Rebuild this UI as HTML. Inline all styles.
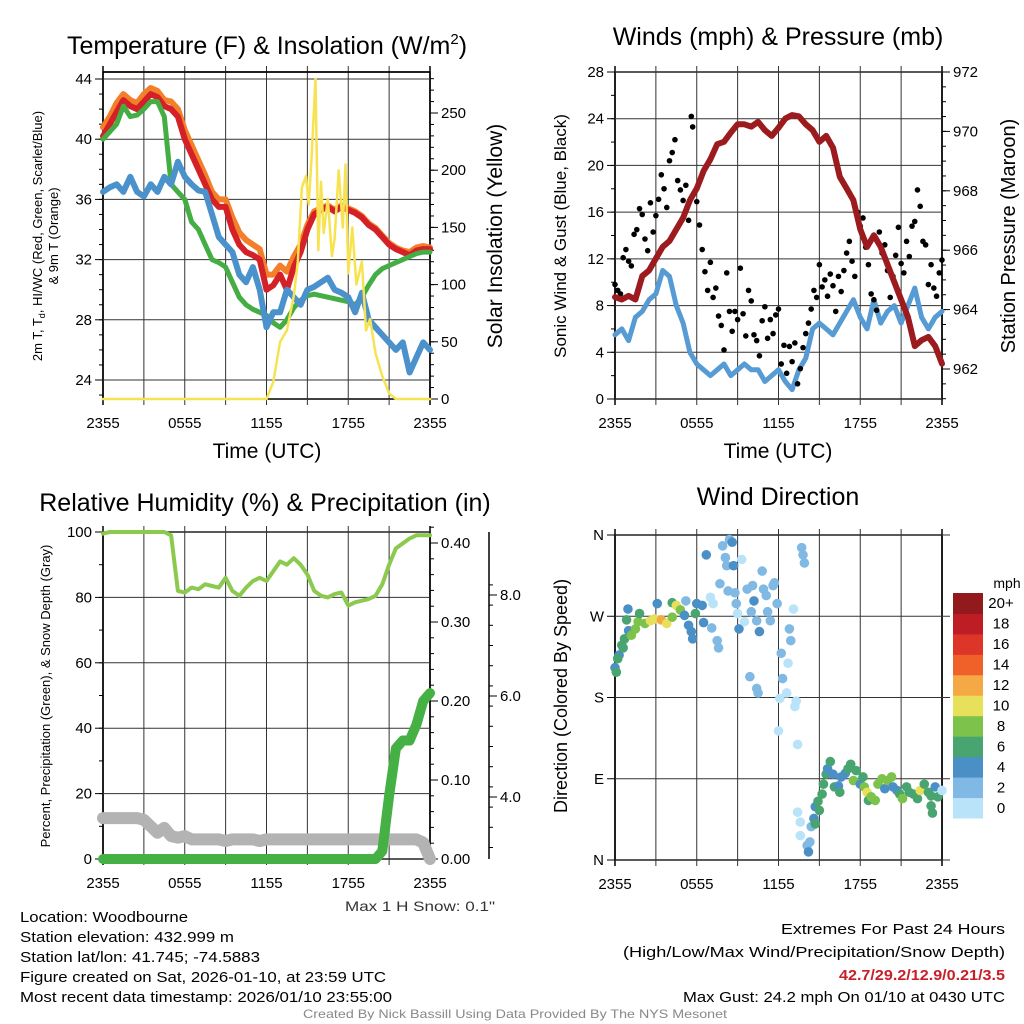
<!DOCTYPE html>
<html><head><meta charset="utf-8">
<style>
html,body{margin:0;padding:0;background:#fff;}
svg{display:block;font-family:"Liberation Sans",Arial,sans-serif;}
</style></head>
<body>
<svg id="chart" width="1024" height="1024" viewBox="0 0 1024 1024" xmlns="http://www.w3.org/2000/svg">
<rect x="0" y="0" width="1024" height="1024" fill="#fff"/>
<g id="texts" font-size="15" fill="#000">
<text x="267" y="54" font-size="25" text-anchor="middle">Temperature (F) &amp; Insolation (W/m<tspan font-size="15" dy="-10">2</tspan><tspan dy="10">)</tspan></text>
<text x="778" y="45" font-size="25" text-anchor="middle">Winds (mph) &amp; Pressure (mb)</text>
<text x="265" y="511" font-size="25" text-anchor="middle">Relative Humidity (%) &amp; Precipitation (in)</text>
<text x="778" y="505" font-size="25" text-anchor="middle">Wind Direction</text>
<text x="267" y="458" font-size="21" text-anchor="middle">Time (UTC)</text>
<text x="778" y="458" font-size="21" text-anchor="middle">Time (UTC)</text>
<text transform="translate(42,236) rotate(-90)" font-size="13" text-anchor="middle">2m T, T<tspan font-size="9" dy="3">d</tspan><tspan dy="-3">, HI/WC (Red, Green, Scarlet/Blue)</tspan></text>
<text transform="translate(58,236) rotate(-90)" font-size="13" text-anchor="middle">&amp; 9m T (Orange)</text>
<text transform="translate(502,236) rotate(-90)" font-size="21" text-anchor="middle">Solar Insolation (Yellow)</text>
<text transform="translate(566,236) rotate(-90)" font-size="17" text-anchor="middle">Sonic Wind &amp; Gust (Blue, Black)</text>
<text transform="translate(1015,236) rotate(-90)" font-size="20" text-anchor="middle">Station Pressure (Maroon)</text>
<text transform="translate(50,696) rotate(-90)" font-size="13" text-anchor="middle">Percent, Precipitation (Green), &amp; Snow Depth (Gray)</text>
<text transform="translate(567,696) rotate(-90)" font-size="18" text-anchor="middle">Direction (Colored By Speed)</text>
<text x="1007" y="588" font-size="14" text-anchor="middle">mph</text>
<text x="345" y="911" font-size="14" textLength="150" lengthAdjust="spacingAndGlyphs" fill="#333">Max 1 H Snow: 0.1"</text>
<text x="20" y="922" textLength="168" lengthAdjust="spacingAndGlyphs">Location: Woodbourne</text>
<text x="20" y="942" textLength="214" lengthAdjust="spacingAndGlyphs">Station elevation: 432.999 m</text>
<text x="20" y="962" textLength="240" lengthAdjust="spacingAndGlyphs">Station lat/lon: 41.745; -74.5883</text>
<text x="20" y="982" textLength="366" lengthAdjust="spacingAndGlyphs">Figure created on Sat, 2026-01-10, at 23:59 UTC</text>
<text x="20" y="1002" textLength="372" lengthAdjust="spacingAndGlyphs">Most recent data timestamp: 2026/01/10 23:55:00</text>
<text x="1005" y="934" text-anchor="end" textLength="224" lengthAdjust="spacingAndGlyphs">Extremes For Past 24 Hours</text>
<text x="1005" y="957" text-anchor="end" textLength="382" lengthAdjust="spacingAndGlyphs">(High/Low/Max Wind/Precipitation/Snow Depth)</text>
<text x="1005" y="980" text-anchor="end" font-weight="bold" fill="#c8202a" textLength="166" lengthAdjust="spacingAndGlyphs">42.7/29.2/12.9/0.21/3.5</text>
<text x="1005" y="1002" text-anchor="end" textLength="322" lengthAdjust="spacingAndGlyphs">Max Gust: 24.2 mph On 01/10 at 0430 UTC</text>
<text x="515" y="1018" font-size="12" fill="#888" text-anchor="middle" textLength="424" lengthAdjust="spacingAndGlyphs">Created By Nick Bassill Using Data Provided By The NYS Mesonet</text>
</g>
</svg>
<script>
// ---------- data ----------
const hours = [0,0.5,1,1.5,2,2.5,3,3.5,4,4.5,5,5.5,6,6.5,7,7.5,8,8.5,9,9.5,10,10.5,11,11.5,12,12.5,13,13.5,14,14.5,15,15.5,16,16.5,17,17.5,18,18.5,19,19.5,20,20.5,21,21.5,22,22.5,23,23.5,24];
const timeTickLabels = ["2355","0555","1155","1755","2355"];
const timeTickHours = [0,6,12,18,24];
const tempRed = [40.2,41,41.8,42.6,42.2,42,42.5,43,42.8,42.2,42,41.5,40,39,38,37,36,35.5,35.5,34,33,32.5,32.3,32,30,30.3,31,30,31.5,32.5,34,35,35.3,35.5,35.2,35.5,35.3,35.1,34.8,34.3,34,33.5,33,32.7,32.5,32.3,32.6,32.7,32.7];
const tempOrange = [40.8,41.5,42.4,43,42.6,42.4,43,43.4,43.2,42.6,42.5,42,40.6,39.6,38.6,37.6,36.5,36,36,34.8,33.8,33.3,33,32.7,31,31,31.6,31.2,32.2,33,34.3,35.2,35.4,35.6,35.3,35.6,35.4,35.2,34.9,34.4,34.1,33.6,33.1,32.8,32.6,32.5,32.8,32.9,32.8];
const tempGreen = [40,40.5,41,42.2,41.5,41.6,42,42.5,42.5,41.5,37,36.5,36,34.5,34,33,32,31.8,31.5,30.5,29.5,29,28.7,28.5,28.3,27.8,27.5,28,28.8,29.3,29.6,29.7,29.6,29.5,29.4,29.3,29.2,29,29.5,30.3,31,31.4,31.6,31.8,32,32.2,32.4,32.5,32.5];
const tempBlue = [36.5,36.8,37,36.5,37.5,36.5,36.2,37,36.5,37.5,37,38.5,37.5,37,36.6,36.5,35,33.5,33,32.5,31,30.5,31.5,30,27.5,28.5,28.5,30,29.5,29,30,30.2,30.5,30.8,30,29.8,29.5,28.5,29.8,28,27.5,27,26.5,26,26.5,24.5,25.5,26.5,26];
const solarHours = [0,12,12.5,13,13.5,14,14.3,14.6,14.9,15.1,15.3,15.6,15.8,16,16.2,16.5,16.8,17,17.3,17.6,17.8,18,18.3,18.6,19,19.3,19.6,20,20.5,21,21.5,24];
const solarValues = [0,0,15,50,60,90,120,185,195,170,210,280,130,190,145,175,125,140,200,150,205,110,150,100,120,60,70,40,20,5,0,0];
const windSpeed = [5.5,6,5,7,7.5,8.5,9,11,10.5,8,6.5,4,3,2.5,2,2.5,3,2,2.5,3,2.5,2.5,1.5,2,2.5,1.5,0.8,2.5,3.5,6,6.5,6,5.5,6.5,7.5,8.5,7,6,8.5,6.5,7.5,8,6.5,8,9.5,7,6,7,7.5];
const pressureMb = [964.42,964.34,964.46,964.34,965.13,965.32,965.72,966.11,966.31,966.70,967.09,967.68,968.08,968.67,969.06,969.57,969.65,969.96,970.24,970.24,970.16,970.32,970.04,969.85,970.12,970.43,970.55,970.51,970.24,970.04,969.65,969.85,969.45,968.47,968.08,967.68,966.70,966.11,966.50,966.11,965.52,964.93,964.34,963.75,962.77,962.97,963.08,962.77,962.18];
const gustHours = [0,0.2,0.4,0.6,0.8,1.0,1.2,1.4,1.6,1.8,2.0,2.2,2.4,2.6,2.8,3.0,3.2,3.4,3.6,3.8,4.0,4.2,4.4,4.6,4.8,5.0,5.2,5.4,5.6,5.7,5.8,6.0,6.2,6.4,6.6,6.8,7.0,7.2,7.4,7.6,7.8,8.0,8.2,8.4,8.6,8.8,9.0,9.2,9.4,9.6,9.8,10.0,10.2,10.4,10.6,10.8,11.0,11.2,11.4,11.6,11.8,12.0,12.2,12.4,12.6,12.8,13.0,13.2,13.4,13.6,13.8,14.0,14.2,14.4,14.6,14.8,15.0,15.2,15.4,15.6,15.8,16.0,16.2,16.4,16.6,16.8,17.0,17.2,17.4,17.6,17.8,18.0,18.2,18.4,18.6,18.8,19.0,19.2,19.4,19.6,19.8,20.0,20.2,20.4,20.6,20.8,21.0,21.2,21.4,21.6,21.8,22.0,22.2,22.4,22.6,22.8,23.0,23.2,23.4,23.6,23.8,24.0];
const gustValues = [9.8,9.3,9.0,12.1,12.8,11.8,11.4,14.1,14.5,16.3,15.8,13.7,12.7,16.8,14.3,15.7,17.1,19.2,18.0,16.4,20.4,21.1,22.2,18.7,17.9,17.0,18.3,15.3,24.2,23.3,17.6,16.9,14.9,12.8,10.9,9.3,11.7,8.7,9.5,7.1,6.3,4.2,10.8,7.5,5.8,7.5,6.8,11.2,7.3,5.4,9.3,8.4,5.5,5.0,3.7,6.7,7.9,5.2,6.8,5.6,7.2,7.7,3.0,4.6,2.2,4.5,3.2,4.8,1.3,2.6,4.4,5.6,6.5,7.7,9.3,8.7,11.5,9.6,10.2,8.8,10.7,9.7,7.5,10.5,9.2,11.0,12.5,13.5,11.8,10.5,16.0,14.8,15.5,13.0,11.5,9.0,8.5,7.6,14.3,12.5,13.2,11.0,8.7,10.5,12.3,14.7,11.6,10.8,13.5,12.2,14.8,15.2,17.9,16.5,13.5,13.2,9.8,11.5,9.5,8.8,10.8,11.9];
const humidity = [99.5,100,100,100,100,100,100,100,100,100,99,82,81.5,83,82.5,84,83.5,83,86,82,80.5,83,85,86,85,88,91,90,92,90,87,82,80.5,80,81,81.5,77.5,78.5,79,79.5,80.5,84,90,95,96.5,98,99,99,99];
const precipIn = [0,0,0,0,0,0,0,0,0,0,0,0,0,0,0,0,0,0,0,0,0,0,0,0,0,0,0,0,0,0,0,0,0,0,0,0,0,0,0,0,0,0.01,0.08,0.14,0.15,0.15,0.17,0.20,0.21];
const snowDepthPct = [12.5,12.5,12.5,12.5,12.5,12.5,12,10,8,9.5,7,6.5,7,6,6,6,6,6,5.5,6,6,6,6,5.5,6,6,6,6,6,6,6,6,6,6,6,6,6,6,6,6,6,6,6,6,6,6,6,5,0];
const dirHours = [0,0.1,0.3,0.2,0.5,0.7,0.6,1.0,0.95,0.85,1.2,1.5,1.7,1.8,2.2,2.6,2.9,3.1,3.4,3.8,4.2,4.2,4.5,4.8,5.2,5.1,5.4,5.6,5.7,5.9,6.0,6.4,6.5,6.7,7.0,7.2,7.1,7.5,7.6,7.7,7.9,8.1,8.2,8.3,8.4,8.6,8.7,8.8,8.9,9.0,9.1,9.3,9.5,9.7,9.9,10.0,10.1,10.2,10.4,10.4,10.5,10.6,10.8,10.9,11.1,11.2,11.4,11.6,11.7,11.9,12.0,12.1,12.2,12.3,12.7,12.6,12.8,12.9,13.1,13.2,13.3,13.4,13.4,13.6,13.6,13.7,13.8,13.9,14.1,14.2,14.3,14.4,14.6,14.7,14.7,14.9,15.0,15.2,15.3,15.5,15.6,15.8,16.0,16.1,16.4,16.5,16.6,16.9,17.1,17.3,17.5,17.7,18.0,18.2,18.3,18.5,18.6,18.8,19.1,19.3,19.6,19.8,20.0,20.3,20.4,20.7,20.9,21.1,21.4,21.6,21.9,22.2,22.4,22.7,23.0,23.2,23.2,23.3,23.5,23.7,24.0];
const dirDegrees = [213,208,227,223,238,245,235,254,278,266,249,256,264,273,262,265,267,284,266,262,285,269,282,277,287,271,260,253,245,273,284,282,263,338,291,284,257,243,235,306,348,335,326,298,355,352,326,296,284,273,256,333,264,300,203,275,304,287,265,190,185,253,320,300,293,275,265,304,307,284,143,179,229,201,218,185,256,243,278,170,176,128,53,42,27,346,338,329,16,9,20,37,46,59,40,65,55,73,84,95,101,109,95,81,82,75,92,96,101,106,88,99,84,92,81,75,66,70,66,84,90,79,88,92,81,77,73,68,81,75,73,68,77,84,75,71,60,52,81,70,77];
const dirSpeeds = [4.5,6.5,4.5,6.5,6.5,6.5,6.5,4.5,4.5,6.5,8.5,8.5,8.5,6.5,8.5,10.5,10.5,4.5,12.5,10.5,6.5,8.5,10.5,8.5,2.5,4.5,4.5,4.5,4.5,6.5,4.5,4.5,4.5,5,0.5,0.5,2.5,2.5,2.5,2.5,2.5,2.5,2.5,2.5,2.5,4.5,4.5,2.5,2.5,0.5,4.5,0.5,0.5,2.5,2.5,2.5,2.5,4.5,2.5,2.5,2.5,4.5,2.5,2.5,2.5,2.5,2.5,2.5,2.5,2.5,0.5,0.5,2.5,2.5,0.5,0.5,2.5,2.5,0.5,0.5,0.5,0.5,0.5,0.5,0.5,2.5,2.5,2.5,2.5,4.5,2.5,2.5,4.5,4.5,6.5,6.5,6.5,6.5,6.5,6.5,4.5,6.5,4.5,6.5,4.5,6.5,4.5,4.5,6.5,6.5,8.5,6.5,4.5,6.5,8.5,10.5,6.5,8.5,8.5,8.5,8.5,4.5,8.5,8.5,4.5,4.5,6.5,8.5,6.5,6.5,6.5,6.5,10.5,6.5,6.5,6.5,6.5,6.5,4.5,6.5];
const speedBins = [0,2,4,6,8,10,12,14,16,18,20];
const speedBinLabels = ["0","2","4","6","8","10","12","14","16","18","20+"];
const speedColors = ["#b8e3f8","#80b9e3","#4b8fc7","#48a56f","#7dc24b","#e6e05a","#f5a945","#ef6128","#dd3528","#be1d26","#921a1c"];

// ---------- helpers ----------
const NS = "http://www.w3.org/2000/svg";
const svg = document.getElementById("chart");
function add(parent, tag, attrs, name) {
  const el = document.createElementNS(NS, tag);
  for (const k in attrs) el.setAttribute(k, attrs[k]);
  
  
  parent.appendChild(el);
  return el;
}
function linear(d0, d1, r0, r1) { return v => r0 + (v - d0) * (r1 - r0) / (d1 - d0); }
function polyline(g, xs, ys, xsF, ysF, style, name) {
  let pts = [];
  for (let i = 0; i < xs.length; i++) pts.push(xsF(xs[i]).toFixed(1) + "," + ysF(ys[i]).toFixed(1));
  return add(g, "polyline", Object.assign({points: pts.join(" "), fill: "none", "stroke-linejoin": "round", "stroke-linecap": "round"}, style), name);
}
function frame(g, x0, x1, y0, y1, xScale, prefix) {
  add(g, "rect", {x: x0, y: y0, width: x1 - x0, height: y1 - y0, fill: "none", stroke: "#000", "stroke-width": 1.5}, prefix + "-frame");
  for (let h = 3; h < 24; h += 3) {
    add(g, "line", {x1: xScale(h), x2: xScale(h), y1: y0 - 6, y2: y1 + 6, stroke: "#333", "stroke-width": 1}, prefix + "-x-gridline");
  }
  for (let h = 0; h <= 24; h += 24) {
    add(g, "line", {x1: xScale(h), x2: xScale(h), y1: y0 - 6, y2: y1 + 6, stroke: "#000", "stroke-width": 1.5}, prefix + "-x-edge-tick");
  }
  for (let i = 0; i < timeTickHours.length; i++) {
    const t = add(g, "text", {x: xScale(timeTickHours[i]), y: y1 + 29, "font-size": 15, "text-anchor": "middle"}, prefix + "-x-tick-label");
    t.textContent = timeTickLabels[i];
  }
}
function yAxis(g, x, vals, labels, yF, side, prefix, gridX0, gridX1, minor) {
  for (let i = 0; i < vals.length; i++) {
    const y = yF(vals[i]);
    if (gridX0 !== null) add(g, "line", {x1: gridX0, x2: gridX1, y1: y, y2: y, stroke: "#333", "stroke-width": 1}, prefix + "-gridline");
    add(g, "line", {x1: x, x2: x + (side < 0 ? -8 : 8), y1: y, y2: y, stroke: "#000", "stroke-width": 1}, prefix + "-tick");
    const t = add(g, "text", {x: x + (side < 0 ? -11 : 11), y: y + 5, "font-size": 15, "text-anchor": side < 0 ? "end" : "start"}, prefix + "-tick-label");
    t.textContent = labels[i];
  }
  if (minor) for (const v of minor) {
    const y = yF(v);
    add(g, "line", {x1: x, x2: x + (side < 0 ? -4 : 4), y1: y, y2: y, stroke: "#000", "stroke-width": 1}, prefix + "-minor-tick");
  }
}
function range(a, b, s) { const r = []; for (let v = a; v <= b + 1e-9; v += s) r.push(+v.toFixed(4)); return r; }

// ---------- panel 1: temperature ----------
(function () {
  const g = add(svg, "g", {}, "temperature-panel");
  const x0 = 103, x1 = 430, y0 = 72, y1 = 399;
  const xs = linear(0, 24, x0, x1);
  const yT = linear(24, 44, 380, 79);
  const yS = linear(0, 250, 399, 113);
  frame(g, x0, x1, y0, y1, xs, "temp");
  yAxis(g, x0, [24,28,32,36,40,44], ["24","28","32","36","40","44"], yT, -1, "temp-y", x0, x1, range(23, 44, 1));
  add(g, "line", {x1: x0, x2: x1, y1: y0, y2: y0, stroke: "#000", "stroke-width": 1.5}, "temp-top-border");
  yAxis(g, x1, [0,50,100,150,200,250], ["0","50","100","150","200","250"], yS, 1, "solar-y", null, null, range(0, 280, 10));
  polyline(g, hours, tempOrange, xs, yT, {stroke: "#f47f2a", "stroke-width": 6}, "orange-9m-temp-line");
  polyline(g, hours, tempRed, xs, yT, {stroke: "#d42027", "stroke-width": 6}, "red-2m-temp-line");
  polyline(g, hours, tempGreen, xs, yT, {stroke: "#44ad44", "stroke-width": 5}, "green-dewpoint-line");
  polyline(g, hours, tempBlue, xs, yT, {stroke: "#4b91cb", "stroke-width": 6}, "blue-windchill-line");
  polyline(g, solarHours, solarValues, xs, yS, {stroke: "#f7e352", "stroke-width": 2.5}, "yellow-insolation-line");
})();

// ---------- panel 2: winds ----------
(function () {
  const g = add(svg, "g", {}, "winds-panel");
  const x0 = 615, x1 = 942, y0 = 72, y1 = 399;
  const xs = linear(0, 24, x0, x1);
  const yW = linear(0, 28, 399, 72);
  const yP = linear(962, 972, 369, 72);
  frame(g, x0, x1, y0, y1, xs, "wind");
  yAxis(g, x0, [0,4,8,12,16,20,24,28], ["0","4","8","12","16","20","24","28"], yW, -1, "wind-y", x0, x1, range(0, 28, 2));
  yAxis(g, x1, [962,964,966,968,970,972], ["962","964","966","968","970","972"], yP, 1, "pressure-y", null, null, range(961, 972, 0.5));
  polyline(g, hours, windSpeed, xs, yW, {stroke: "#569bd3", "stroke-width": 5}, "blue-sonic-wind-line");
  for (let i = 0; i < gustHours.length; i++) {
    add(g, "circle", {cx: xs(gustHours[i]), cy: yW(gustValues[i]), r: 2.8, fill: "#000"}, "black-gust-dot");
  }
  polyline(g, hours, pressureMb, xs, yP, {stroke: "#9b1b1f", "stroke-width": 6}, "maroon-pressure-line");
})();

// ---------- panel 3: humidity ----------
(function () {
  const g = add(svg, "g", {}, "humidity-panel");
  const x0 = 103, x1 = 430, y0 = 532, y1 = 859;
  const xs = linear(0, 24, x0, x1);
  const yR = linear(0, 100, 859, 532);
  const yPr = linear(0, 0.40, 859, 543);
  const ySn = linear(4, 8, 797, 595);
  frame(g, x0, x1, y0, y1, xs, "rh");
  yAxis(g, x0, [0,20,40,60,80,100], ["0","20","40","60","80","100"], yR, -1, "rh-y", x0, x1, range(0, 100, 10));
  yAxis(g, x1, [0,0.1,0.2,0.3,0.4], ["0.00","0.10","0.20","0.30","0.40"], yPr, 1, "precip-y", null, null, range(0, 0.42, 0.02));
  add(g, "line", {x1: 489, x2: 489, y1: 532, y2: 859, stroke: "#000", "stroke-width": 1.5}, "snow-axis-line");
  yAxis(g, 489, [4,6,8], ["4.0","6.0","8.0"], ySn, 1, "snow-y", null, null, range(3, 8.2, 0.4));
  polyline(g, hours, humidity, xs, yR, {stroke: "#8cc94f", "stroke-width": 4}, "green-humidity-line");
  polyline(g, hours, snowDepthPct, xs, yR, {stroke: "#b3b3b3", "stroke-width": 12}, "gray-snow-depth-line");
  polyline(g, hours, precipIn, xs, yPr, {stroke: "#45b145", "stroke-width": 10}, "green-precip-line");
})();

// ---------- panel 4: wind direction ----------
(function () {
  const g = add(svg, "g", {}, "direction-panel");
  const x0 = 615, x1 = 942, y0 = 535, y1 = 860;
  const xs = linear(0, 24, x0, x1);
  const yD = linear(0, 360, 860, 535);
  frame(g, x0, x1, y0, y1, xs, "dir");
  yAxis(g, x0, [0,90,180,270,360], ["N","E","S","W","N"], yD, -1, "dir-y", x0, x1 + 8, null);
  function colorFor(s) { let k = 0; for (let i = 0; i < speedBins.length; i++) if (s >= speedBins[i]) k = i; return speedColors[k]; }
  for (let i = 0; i < dirHours.length; i++) {
    add(g, "circle", {cx: xs(dirHours[i]), cy: yD(dirDegrees[i]), r: 4.8, fill: colorFor(dirSpeeds[i])}, "direction-dot");
  }
  const cb = add(svg, "g", {}, "speed-colorbar");
  const cy = linear(0, speedColors.length, 818, 593);
  for (let i = 0; i < speedColors.length; i++) {
    add(cb, "rect", {x: 953, y: cy(i + 1), width: 30, height: cy(i) - cy(i + 1) + 0.5, fill: speedColors[i]}, "colorbar-cell");
    const t = add(cb, "text", {x: 1001, y: (cy(i) + cy(i + 1)) / 2 + 5, "font-size": 15, "text-anchor": "middle"}, "colorbar-label");
    t.textContent = speedBinLabels[i];
  }
})();
</script>
</body></html>
